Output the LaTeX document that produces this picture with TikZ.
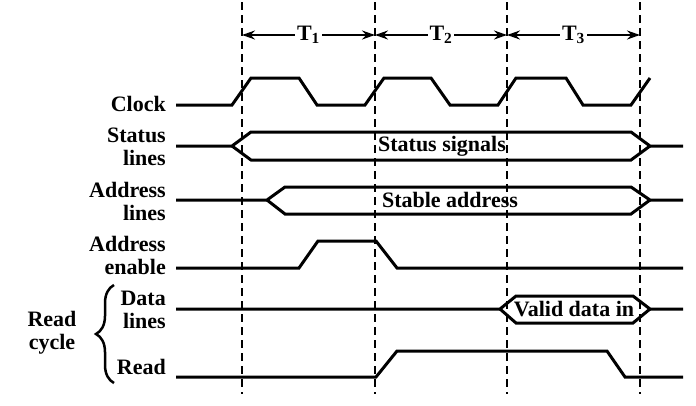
\documentclass[tikz,border=0pt]{standalone}
\usepackage{fontspec}
\setmainfont{Liberation Serif}
\usetikzlibrary{positioning,calc,arrows.meta,decorations.pathreplacing}
\tikzset{font=\bfseries\fontsize{22}{23}\selectfont}

\begin{document}
\begin{tikzpicture}[x=1pt, y=-1pt]
	\useasboundingbox (0,0) rectangle (696,405);
	\tikzstyle{every node}=[align=right, inner sep=1pt]
	\tikzstyle{sig}=[line width=3pt, line join=miter]
	\tikzstyle{grid}=[line width=2.3pt, dash pattern=on 8pt off 5pt]
	\tikzstyle{per}=[<->, >={Stealth[length=13pt,width=9pt]}, line width=2pt]

	% dashed clock edges
	\coordinate (d0t) at (242,2); \coordinate (d0b) at (242,394);
	\coordinate (d1t) at (375,2); \coordinate (d1b) at (375,394);
	\coordinate (d2t) at (507,2); \coordinate (d2b) at (507,394);
	\coordinate (d3t) at (640,2); \coordinate (d3b) at (640,394);
	\draw [grid] (d0t) -- (d0b);
	\draw [grid] (d1t) -- (d1b);
	\draw [grid] (d2t) -- (d2b);
	\draw [grid] (d3t) -- (d3b);

	% periods
	\coordinate (p0) at (242,35);
	\coordinate (p1) at (375,35);
	\coordinate (p2) at (507,35);
	\coordinate (p3) at (640,35);
	\draw [per] (p0) -- node[fill=white, inner sep=2pt] (t1) {T\textsubscript{1}} (p1);
	\draw [per] (p1) -- node[fill=white, inner sep=2pt] (t2) {T\textsubscript{2}} (p2);
	\draw [per] (p2) -- node[fill=white, inner sep=2pt] (t3) {T\textsubscript{3}} (p3);

	% signal names
	\node [anchor=east] (clk) at (167,104) {Clock};
	\node [anchor=east] (stl) at (167,147) {Status\\lines};
	\node [anchor=east] (adl) at (167,201) {Address\\lines};
	\node [anchor=east] (ade) at (167,255) {Address\\enable};
	\node [anchor=east] (dtl) at (167,310) {Data\\lines};
	\node [anchor=east] (rd) at (167,367) {Read};
	\node [align=center] (rc) at (52,333) {Read\\cycle};
	\draw [decorate, decoration={brace, amplitude=18pt}, line width=2.5pt] (114,383) -- (114,285);

	% clock
	\draw [sig] (176,105) -- (232,105) -- (251,78) -- (299,78) -- (317,105) -- (365,105)
		-- (384,78) -- (431,78) -- (450,105) -- (498,105) -- (516,78) -- (566,78)
		-- (583,105) -- (631,105) -- (650,78);

	% status lines
	\draw [sig] (176,146) -- (232,146) -- (251,132) -- (631,132) -- (650,146) -- (683,146);
	\draw [sig] (232,146) -- (251,160) -- (631,160) -- (650,146);
	\node (sts) at (442,146) {Status signals};

	% address lines
	\draw [sig] (176,200) -- (267,200) -- (285,187) -- (631,187) -- (650,200) -- (683,200);
	\draw [sig] (267,200) -- (285,214) -- (631,214) -- (650,200);
	\node (sta) at (450,200) {Stable address};

	% address enable
	\draw [sig] (176,268) -- (299,268) -- (318,241) -- (376,241) -- (397,268) -- (683,268);

	% data lines
	\draw [sig] (176,309) -- (500,309) -- (516,296) -- (633,296) -- (650,309) -- (683,309);
	\draw [sig] (500,309) -- (516,323) -- (633,323) -- (650,309);
	\node (vdi) at (574,309) {Valid data in};

	% read
	\draw [sig] (176,377) -- (376,377) -- (397,351) -- (607,351) -- (625,377) -- (683,377);
\end{tikzpicture}
\end{document}
